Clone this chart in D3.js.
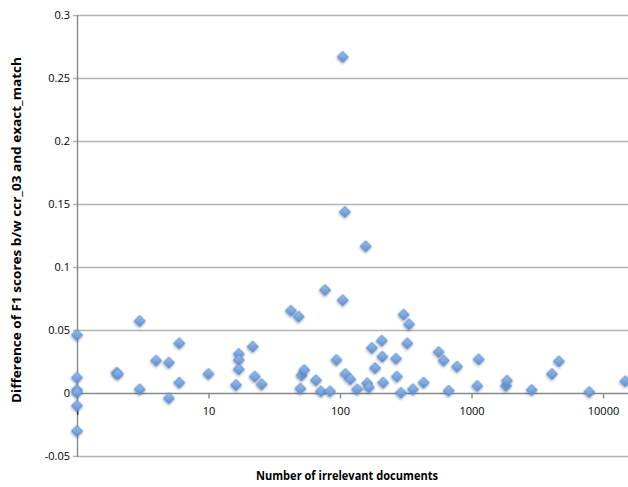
<!DOCTYPE html>
<html>
  <head>
    <meta charset="utf-8" />
    <title>F1 difference vs irrelevant documents</title>
    <script src="https://cdn.jsdelivr.net/npm/d3@7/dist/d3.min.js"></script>
    <style>
      body { margin: 0; background: #fff; }
      text { font-family: "Open Sans", "Liberation Sans", sans-serif; fill: #000; }
    </style>
  </head>
  <body>
    <svg id="svg" width="628" height="487" xmlns="http://www.w3.org/2000/svg"></svg>
    <script>
      // Number of irrelevant documents (x) and F1 difference (y)
      let docCounts = [1, 1, 1, 1, 1, 1, 2, 2.05, 3, 3, 4, 5, 5, 6, 6, 10, 16.2, 17, 17, 17,
        21.7, 22.5, 25.4, 42.4, 48.5, 50, 51, 53.5, 65.7, 71.7, 77, 84, 94, 105, 105, 109,
        110, 120, 135, 157, 161, 166, 175, 185, 208, 210, 213, 267, 271, 291, 305, 325, 335,
        359, 433, 563, 615, 671, 776, 1107, 1135, 1829, 1862, 2870, 4093, 4625, 7870, 14780];
      let f1Diffs = [0.046, 0.0122, 0.0024, 0.0005, -0.0101, -0.0302, 0.0161, 0.015, 0.0571, 0.0029,
        0.0257, 0.0241, -0.0042, 0.0394, 0.0082, 0.0151, 0.0063, 0.031, 0.0262, 0.0188,
        0.0368, 0.013, 0.0069, 0.0653, 0.0606, 0.0034, 0.014, 0.0182, 0.0101, 0.0013, 0.0817, 0.0013,
        0.0262, 0.2667, 0.0736, 0.1437, 0.0151, 0.0109, 0.0029, 0.1164, 0.0077, 0.0045, 0.0357,
        0.0198, 0.0415, 0.0288, 0.0082, 0.0272, 0.013, 0.0002, 0.0622, 0.0394, 0.0545, 0.0029,
        0.0082, 0.0325, 0.0257, 0.0018, 0.0209, 0.0056, 0.0267, 0.0056, 0.0098, 0.0024, 0.0151,
        0.0251, 0.0008, 0.0093];

      let xTicks = [1, 10, 100, 1000, 10000];
      let yTicks = [-0.05, 0, 0.05, 0.1, 0.15, 0.2, 0.25, 0.3];

      let points = docCounts.map((d, i) => ({ x: d, y: f1Diffs[i] }));

      let svg = d3.select("svg");
      let plotLeft = 77, plotRight = 628, plotTop = 15, plotBottom = 456;

      let x = d3.scaleLog().domain([1, 15490]).range([plotLeft, plotRight]);
      let y = d3.scaleLinear().domain([-0.05, 0.3]).range([plotBottom, plotTop]);

      // marker gradient + soft shadow
      let defs = svg.append("defs");
      let grad = defs.append("linearGradient").attr("id", "mk")
        .attr("x1", 0).attr("y1", 0).attr("x2", 1).attr("y2", 1);
      grad.append("stop").attr("offset", "0%").attr("stop-color", "#9cc0ea");
      grad.append("stop").attr("offset", "100%").attr("stop-color", "#5a8fd2");
      let shadow = defs.append("filter").attr("id", "sh")
        .attr("x", "-50%").attr("y", "-50%").attr("width", "200%").attr("height", "200%");
      shadow.append("feDropShadow").attr("dx", 0.6).attr("dy", 1.2)
        .attr("stdDeviation", 0.8).attr("flood-color", "#000").attr("flood-opacity", 0.35);

      // y axis: gridlines across the plot, short ticks outside, labels on the left
      let yAxis = svg.append("g")
        .attr("transform", "translate(" + plotLeft + ",0)")
        .call(d3.axisLeft(y)
          .tickValues(yTicks)
          .tickSizeInner(-(plotRight - plotLeft))
          .tickSizeOuter(0)
          .tickPadding(7)
          .tickFormat((d) => String(d)));
      yAxis.select(".domain").remove();
      yAxis.selectAll(".tick line")
        .attr("x1", -4)
        .attr("stroke", (d) => (d === 0 ? "#888888" : "#b4b4b4"))
        .attr("stroke-width", 1.4);
      yAxis.selectAll(".tick text")
        .attr("x", -7)
        .style("font-family", "'Open Sans', sans-serif")
        .style("font-size", "11px")
        .attr("fill", "#000");

      // y axis line
      svg.append("line")
        .attr("x1", plotLeft + 0.5).attr("x2", plotLeft + 0.5)
        .attr("y1", plotTop).attr("y2", plotBottom + 1)
        .attr("stroke", "#888888")
        .attr("stroke-width", 1.4);

      // x axis sits on the zero line
      let xAxis = svg.append("g")
        .attr("transform", "translate(0," + (y(0) + 0.5) + ")")
        .call(d3.axisBottom(x)
          .tickValues(xTicks)
          .tickSizeInner(5)
          .tickSizeOuter(0)
          .tickPadding(9)
          .tickFormat((d) => String(d)));
      xAxis.select(".domain").remove();
      xAxis.selectAll(".tick line")
        .attr("stroke", "#888888")
        .attr("stroke-width", 1.4);
      xAxis.selectAll(".tick text")
        .style("font-family", "'Open Sans', sans-serif")
        .style("font-size", "11px")
        .attr("fill", "#000");

      // points
      svg.append("g")
        .selectAll("path")
        .data(points)
        .enter()
        .append("path")
        .attr("d", d3.symbol(d3.symbolSquare, 62))
        .attr("transform", (d) => "translate(" + x(d.x) + "," + y(d.y) + ") rotate(45)")
        .attr("fill", "url(#mk)")
        .attr("stroke", "#5b8acb")
        .attr("stroke-width", 0.8)
        .attr("filter", "url(#sh)");

      // axis titles
      svg.append("text")
        .attr("x", 347)
        .attr("y", 480)
        .attr("text-anchor", "middle")
        .attr("textLength", 182)
        .attr("lengthAdjust", "spacingAndGlyphs")
        .style("font-size", "12px")
        .style("font-weight", "bold")
        .text("Number of irrelevant documents");

      svg.append("text")
        .attr("transform", "translate(21,230) rotate(-90)")
        .attr("text-anchor", "middle")
        .attr("textLength", 346)
        .attr("lengthAdjust", "spacingAndGlyphs")
        .style("font-size", "12px")
        .style("font-weight", "bold")
        .text("Difference of F1 scores b/w ccr_03 and exact_match");
    </script>
  </body>
</html>
